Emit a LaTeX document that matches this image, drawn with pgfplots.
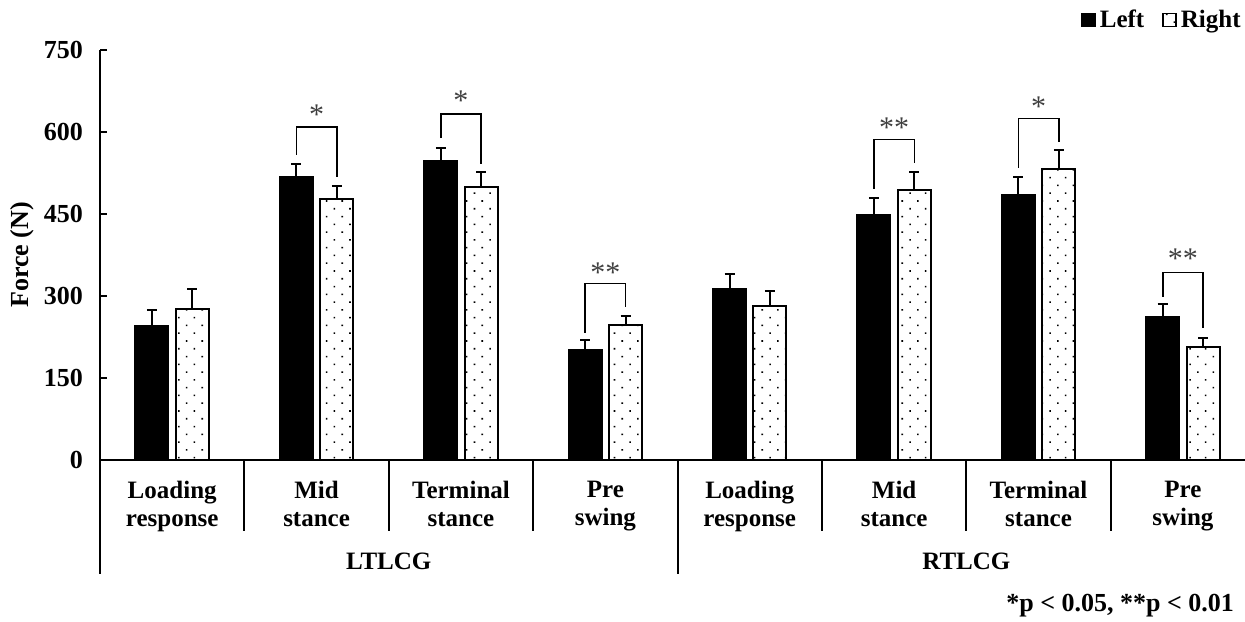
\documentclass[border=0pt]{standalone}
\usepackage{pgfplots}
\usepackage{pgfplotstable}
\pgfplotsset{compat=1.18}
\usepackage{fontspec}
\setmainfont{Liberation Serif}
\usetikzlibrary{patterns.meta}

\pgfplotstableread{
x y e
0 245 29
1 518 24
2 547 24
3 202 17
4 312 28
5 448 32
6 485 32
7 262 23
}\leftdata
\pgfplotstableread{
x y e
0 276 37
1 478 24
2 500 27
3 247 16
4 282 28
5 493 34
6 532 35
7 206 18
}\rightdata

\begin{document}
\begin{tikzpicture}
\useasboundingbox (0,0) rectangle (622.5pt,310.5pt);
\begin{axis}[
  at={(50pt,80.5pt)}, anchor=south west,
  scale only axis, width=572.5pt, height=205pt,
  xmin=-0.5, xmax=7.43, ymin=0, ymax=750,
  axis x line*=bottom, axis y line*=left,
  axis line style={line width=1pt, black},
  ytick={0,150,...,750},
  tick align=inside,
  major tick length=3.3pt,
  ytick style={line width=1pt, black},
  xtick={0,...,7}, xtick style={draw=none},
  xticklabels={{Loading\\response},{Mid\\stance},{Terminal\\stance},{Pre\\swing},{Loading\\response},{Mid\\stance},{Terminal\\stance},{Pre\\swing}},
  xticklabel style={align=center, font=\fontsize{12.5}{14}\selectfont\bfseries, yshift=-7pt},
  yticklabel style={font=\fontsize{13}{15}\selectfont\bfseries, xshift=-5pt},
  /pgf/number format/assume math mode=true,
  ylabel={Force (N)},
  ylabel style={font=\fontsize{13}{15}\selectfont\bfseries, at={(axis description cs:-0.068,0.5)}, anchor=center},
  clip=false,
  legend columns=2,
  legend style={at={(axis description cs:1,1.037)}, anchor=south east, draw=none, fill=none,
    font=\fontsize{12.5}{14}\selectfont\bfseries, inner sep=0pt,
    /tikz/every even column/.append style={column sep=7pt}},
  mylegend/.style={legend image code/.code={\draw[##1, line width=0.8pt] (0pt,-3.2pt) rectangle (6.5pt,3.3pt);}},
]
\addplot[ybar, bar width=16.5pt, bar shift=0pt, fill=black, draw=black, line width=1pt, mylegend,
  error bars/.cd, y dir=plus, y explicit,
  error bar style={line width=1pt, black},
  error mark options={rotate=90, line width=1pt, mark size=2.5pt, black}]
  table[x expr=\thisrow{x}-0.14, y=y, y error=e]{\leftdata};
\addlegendentry{Left}
\addplot[ybar, bar width=16.5pt, bar shift=0pt, draw=black, line width=1pt,
  pattern={Dots[radius=0.55pt, distance=5.5pt, angle=45]}, pattern color=black, mylegend,
  error bars/.cd, y dir=plus, y explicit,
  error bar style={line width=1pt, black},
  error mark options={rotate=90, line width=1pt, mark size=2.5pt, black}]
  table[x expr=\thisrow{x}+0.14, y=y, y error=e]{\rightdata};
\addlegendentry{Right}

% significance brackets
\draw[line width=0.8pt] (axis cs:0.86,558) |- (axis cs:1.14,609) -- (axis cs:1.14,518);
\draw[line width=0.8pt] (axis cs:1.86,589) |- (axis cs:2.14,633) -- (axis cs:2.14,541);
\draw[line width=0.8pt] (axis cs:2.86,233) |- (axis cs:3.14,323) -- (axis cs:3.14,280);
\draw[line width=0.8pt] (axis cs:4.86,496) |- (axis cs:5.14,586) -- (axis cs:5.14,544);
\draw[line width=0.8pt] (axis cs:5.86,535) |- (axis cs:6.14,625) -- (axis cs:6.14,582);
\draw[line width=0.8pt] (axis cs:6.86,299) |- (axis cs:7.14,343) -- (axis cs:7.14,241);
\node[font=\fontsize{15}{15}\selectfont, text=black!75, inner sep=0pt] at (axis cs:1,632) {*};
\node[font=\fontsize{15}{15}\selectfont, text=black!75, inner sep=0pt] at (axis cs:2,657) {*};
\node[font=\fontsize{15}{15}\selectfont, text=black!75, inner sep=0pt] at (axis cs:3,343) {**};
\node[font=\fontsize{15}{15}\selectfont, text=black!75, inner sep=0pt] at (axis cs:5,608) {**};
\node[font=\fontsize{15}{15}\selectfont, text=black!75, inner sep=0pt] at (axis cs:6,646) {*};
\node[font=\fontsize{15}{15}\selectfont, text=black!75, inner sep=0pt] at (axis cs:7,368) {**};

% category separators
\draw[line width=1pt] (axis cs:0.5,0) -- ([yshift=-35.5pt]axis cs:0.5,0);
\draw[line width=1pt] (axis cs:1.5,0) -- ([yshift=-35.5pt]axis cs:1.5,0);
\draw[line width=1pt] (axis cs:2.5,0) -- ([yshift=-35.5pt]axis cs:2.5,0);
\draw[line width=1pt] (axis cs:4.5,0) -- ([yshift=-35.5pt]axis cs:4.5,0);
\draw[line width=1pt] (axis cs:5.5,0) -- ([yshift=-35.5pt]axis cs:5.5,0);
\draw[line width=1pt] (axis cs:6.5,0) -- ([yshift=-35.5pt]axis cs:6.5,0);
\draw[line width=1pt] (axis cs:-0.5,0) -- ([yshift=-57pt]axis cs:-0.5,0);
\draw[line width=1pt] (axis cs:3.5,0) -- ([yshift=-57pt]axis cs:3.5,0);
\node[font=\fontsize{12.5}{14}\selectfont\bfseries] at ([yshift=-50.5pt]axis cs:1.5,0) {LTLCG};
\node[font=\fontsize{12.5}{14}\selectfont\bfseries] at ([yshift=-50.5pt]axis cs:5.5,0) {RTLCG};
\end{axis}
\node[anchor=east, font=\fontsize{13}{15}\selectfont\bfseries] at (620.5pt,7.5pt) {*p < 0.05, **p < 0.01};
\end{tikzpicture}
\end{document}
